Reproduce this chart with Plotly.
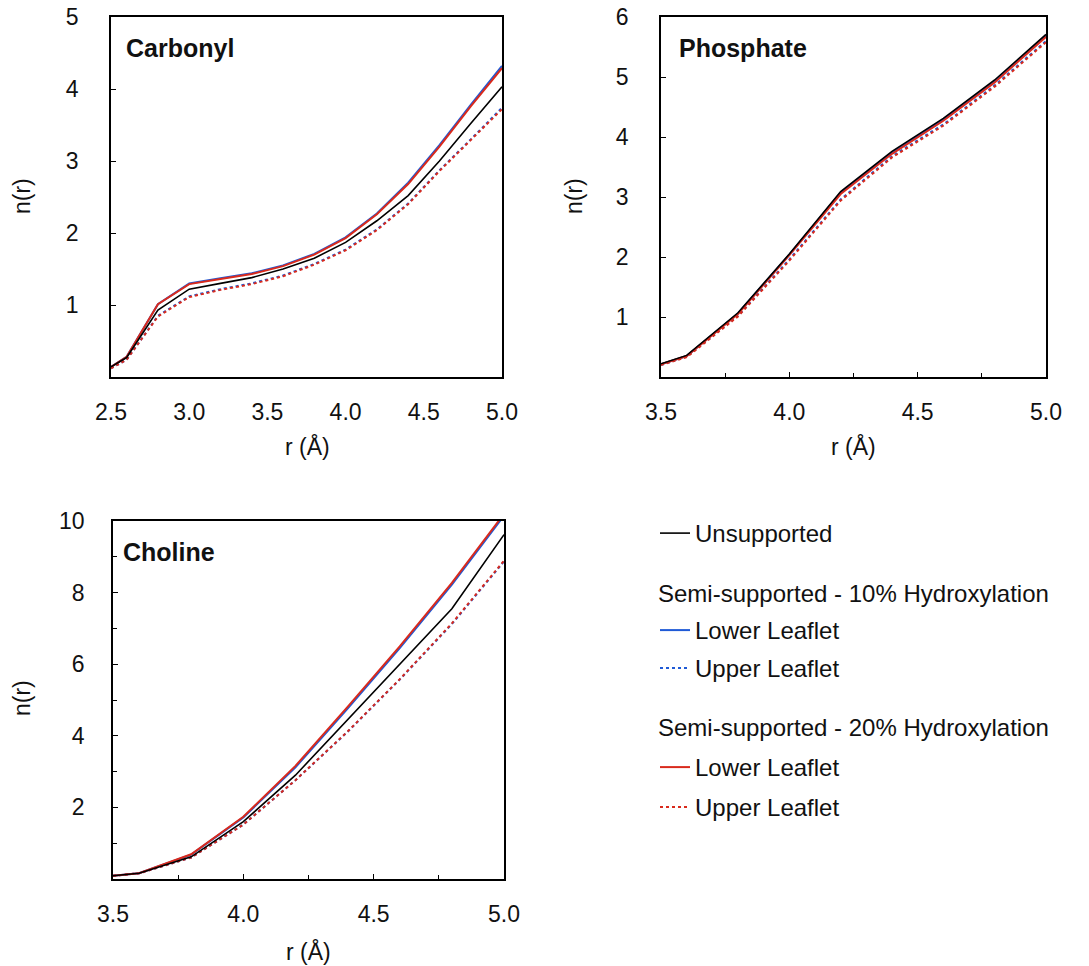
import plotly.graph_objects as go

# ---------------- data ----------------
r_carb = [2.5, 2.6, 2.8, 3.0, 3.2, 3.4, 3.6, 3.8, 4.0, 4.2, 4.4, 4.6, 4.8, 5.0]
carb_unsup = [0.14, 0.27, 0.93, 1.22, 1.30, 1.38, 1.50, 1.65, 1.87, 2.17, 2.52, 3.00, 3.52, 4.03]
carb_10_low = [0.14, 0.28, 1.01, 1.30, 1.37, 1.44, 1.55, 1.71, 1.94, 2.27, 2.70, 3.22, 3.78, 4.32]
carb_10_up = [0.12, 0.24, 0.85, 1.12, 1.22, 1.30, 1.41, 1.57, 1.77, 2.05, 2.41, 2.87, 3.30, 3.74]
carb_20_low = [0.14, 0.28, 1.01, 1.29, 1.36, 1.43, 1.54, 1.70, 1.93, 2.26, 2.68, 3.20, 3.76, 4.29]
carb_20_up = [0.12, 0.24, 0.84, 1.11, 1.21, 1.29, 1.40, 1.56, 1.76, 2.04, 2.40, 2.86, 3.29, 3.72]

r_phos = [3.5, 3.6, 3.8, 4.0, 4.2, 4.4, 4.6, 4.8, 5.0]
phos_unsup = [0.22, 0.36, 1.07, 2.05, 3.09, 3.76, 4.31, 4.95, 5.71]
phos_10_low = [0.21, 0.35, 1.06, 2.04, 3.07, 3.74, 4.29, 4.93, 5.69]
phos_10_up = [0.20, 0.34, 1.02, 1.96, 2.96, 3.68, 4.21, 4.86, 5.60]
phos_20_low = [0.21, 0.35, 1.05, 2.03, 3.05, 3.72, 4.27, 4.91, 5.67]
phos_20_up = [0.20, 0.33, 1.01, 1.94, 2.94, 3.66, 4.19, 4.84, 5.58]

r_chol = [3.5, 3.6, 3.8, 4.0, 4.2, 4.4, 4.6, 4.8, 5.0]
chol_unsup = [0.09, 0.16, 0.62, 1.60, 2.90, 4.44, 6.00, 7.55, 9.62]
chol_10_low = [0.09, 0.16, 0.68, 1.72, 3.12, 4.76, 6.45, 8.22, 10.15]
chol_10_up = [0.09, 0.16, 0.60, 1.52, 2.76, 4.11, 5.57, 7.12, 8.87]
chol_20_low = [0.09, 0.16, 0.69, 1.74, 3.16, 4.81, 6.50, 8.27, 10.20]
chol_20_up = [0.09, 0.16, 0.60, 1.52, 2.76, 4.12, 5.58, 7.14, 8.89]

panel_names = ["Carbonyl", "Phosphate", "Choline"]
series_names = ["Unsupported", "Lower Leaflet", "Upper Leaflet", "Lower Leaflet", "Upper Leaflet"]
group_titles = ["Semi-supported - 10% Hydroxylation", "Semi-supported - 20% Hydroxylation"]

carb_ticks = [1, 2, 3, 4, 5]
phos_ticks = [1, 2, 3, 4, 5, 6]
chol_ticks = [2, 4, 6, 8, 10]
carb_xticks = [2.5, 3.0, 3.5, 4.0, 4.5, 5.0]
pc_xticks = [3.5, 4.0, 4.5, 5.0]

# ---------------- styling ----------------
W, H = 1089, 966
FONT = "Liberation Sans, Arial, Helvetica, sans-serif"
TXT = "#111111"
BLACK = "#000000"
BLUE = "#1f5ad6"
RED = "#d92a1c"
DOT = "3px,3px"
TICK_SIZE = 23
LEG_SIZE = 24


def px_x(p):
    return p / W


def px_y(p):
    return 1 - p / H


fig = go.Figure()

panels = [
    ("x", "y", r_carb, [carb_unsup, carb_10_low, carb_10_up, carb_20_low, carb_20_up]),
    ("x2", "y2", r_phos, [phos_unsup, phos_10_low, phos_10_up, phos_20_low, phos_20_up]),
    ("x3", "y3", r_chol, [chol_unsup, chol_10_low, chol_10_up, chol_20_low, chol_20_up]),
]

# style per series index: (color, dash, width, legend id)
styles = [
    (BLACK, "solid", 1.6, "legend"),
    (BLUE, "solid", 2.0, "legend2"),
    (BLUE, DOT, 2.0, "legend3"),
    (RED, "solid", 2.0, "legend4"),
    (RED, DOT, 2.0, "legend5"),
]
draw_order = [1, 2, 3, 4, 0]

for pi, (xa, ya, xs, ys_list) in enumerate(panels):
    for si in draw_order:
        color, dash, width, leg = styles[si]
        fig.add_trace(go.Scatter(
            x=xs, y=ys_list[si], mode="lines",
            line=dict(color=color, dash=dash, width=width),
            name=series_names[si], legend=leg,
            showlegend=(pi == 0), xaxis=xa, yaxis=ya, hoverinfo="skip"))

axis_common = dict(showgrid=False, zeroline=False, showline=True, linecolor="black",
                   linewidth=1.5, mirror=True, ticks="inside", ticklen=5, tickcolor="black",
                   tickwidth=1, automargin=False,
                   tickfont=dict(size=TICK_SIZE, family=FONT, color=TXT))

leg_common = dict(xanchor="left", yanchor="top", bgcolor="rgba(0,0,0,0)",
                  font=dict(size=LEG_SIZE, family=FONT, color=TXT), itemwidth=30,
                  borderwidth=0)

# legend item top positions (pixels)
leg_tops = [511, 608, 646, 745, 785]
leg_x = 655

fig.update_layout(
    width=W, height=H, margin=dict(l=0, r=0, t=0, b=0, autoexpand=False),
    paper_bgcolor="white", plot_bgcolor="white",
    font=dict(family=FONT, color=TXT),
    xaxis=dict(domain=[px_x(111), px_x(502)], range=[2.5, 5.0], anchor="y",
               tickvals=carb_xticks, ticktext=["%.1f" % v for v in carb_xticks],
               ticklabelstandoff=14, **{**axis_common, "ticks": ""}),
    yaxis=dict(domain=[px_y(377), px_y(17)], range=[0, 5], anchor="x",
               tickvals=carb_ticks, ticklabelstandoff=26, **axis_common),
    xaxis2=dict(domain=[px_x(661), px_x(1046)], range=[3.5, 5.0], anchor="y2",
                tickvals=pc_xticks, ticktext=["%.1f" % v for v in pc_xticks],
                minor=dict(dtick=0.25, ticks="inside", ticklen=4, tickcolor="black"),
                ticklabelstandoff=14, **axis_common),
    yaxis2=dict(domain=[px_y(377), px_y(17)], range=[0, 6], anchor="x2",
                tickvals=phos_ticks, ticklabelstandoff=26, **axis_common),
    xaxis3=dict(domain=[px_x(113), px_x(504)], range=[3.5, 5.0], anchor="y3",
                tickvals=pc_xticks, ticktext=["%.1f" % v for v in pc_xticks],
                minor=dict(dtick=0.25, ticks="inside", ticklen=4, tickcolor="black"),
                ticklabelstandoff=14, **axis_common),
    yaxis3=dict(domain=[px_y(879), px_y(521)], range=[0, 10], anchor="x3",
                tickvals=chol_ticks, ticklabelstandoff=22,
                minor=dict(dtick=1, ticks="inside", ticklen=4, tickcolor="black"),
                **axis_common),
    legend=dict(x=px_x(leg_x), y=px_y(leg_tops[0]), **leg_common),
    legend2=dict(x=px_x(leg_x), y=px_y(leg_tops[1]), **leg_common),
    legend3=dict(x=px_x(leg_x), y=px_y(leg_tops[2]), **leg_common),
    legend4=dict(x=px_x(leg_x), y=px_y(leg_tops[3]), **leg_common),
    legend5=dict(x=px_x(leg_x), y=px_y(leg_tops[4]), **leg_common),
    showlegend=True,
)

annotations = []
# panel labels
for name, (px, py) in zip(panel_names, [(124, 48), (677, 48), (121, 552)]):
    annotations.append(dict(text="<b>%s</b>" % name, x=px_x(px), y=px_y(py), xref="paper", yref="paper",
                            xanchor="left", yanchor="middle", showarrow=False,
                            font=dict(size=25, family=FONT, color=TXT)))
# axis titles
for (px, py) in [(22, 196), (574, 196), (22, 698)]:
    annotations.append(dict(text="n(r)", x=px_x(px), y=px_y(py), xref="paper", yref="paper",
                            textangle=-90, xanchor="center", yanchor="middle", showarrow=False,
                            font=dict(size=TICK_SIZE, family=FONT, color=TXT)))
for (px, py) in [(307, 447), (853, 447), (308, 951)]:
    annotations.append(dict(text="r (Å)", x=px_x(px), y=px_y(py), xref="paper", yref="paper",
                            xanchor="center", yanchor="middle", showarrow=False,
                            font=dict(size=TICK_SIZE, family=FONT, color=TXT)))
# legend group titles
for title, py in zip(group_titles, [593, 727]):
    annotations.append(dict(text=title, x=px_x(656), y=px_y(py), xref="paper", yref="paper",
                            xanchor="left", yanchor="middle", showarrow=False,
                            font=dict(size=LEG_SIZE, family=FONT, color=TXT)))
fig.update_layout(annotations=annotations)

fig.write_html("out.html")
